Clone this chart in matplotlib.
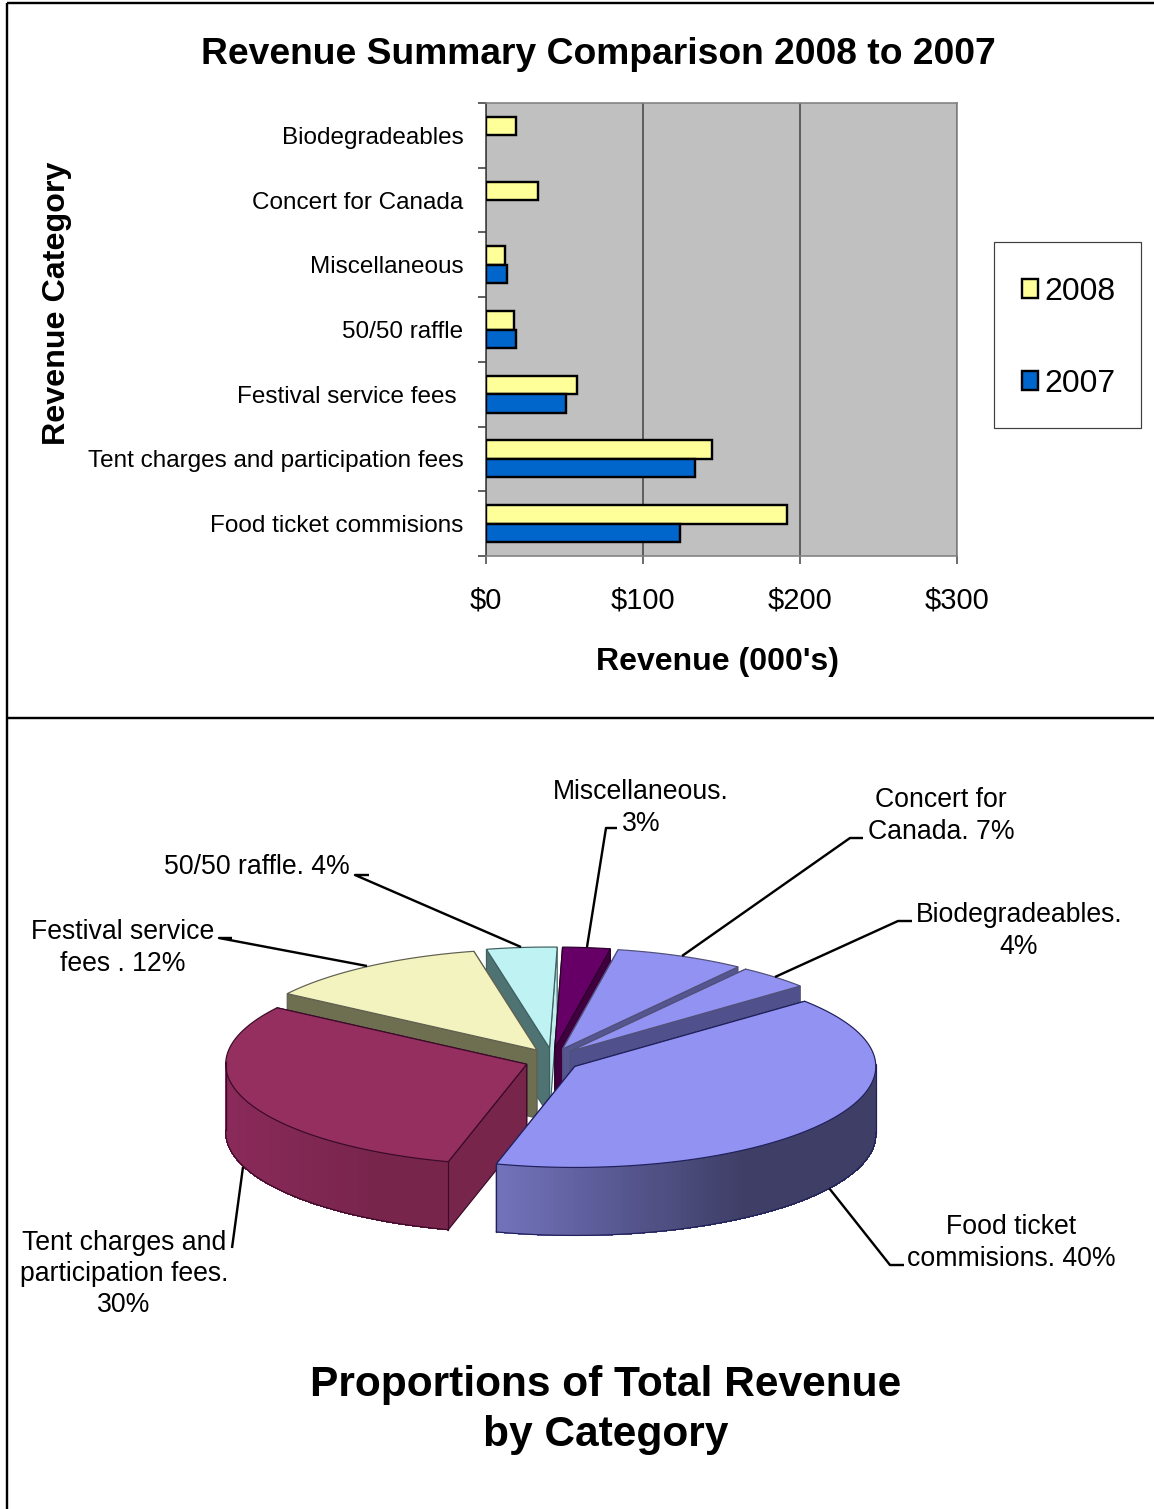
import numpy as np
import matplotlib
matplotlib.use('Agg')
import matplotlib.pyplot as plt
from matplotlib.colors import to_rgb
from matplotlib.patches import Patch, Polygon, Rectangle

plt.rcParams['font.family'] = ['Liberation Sans', 'DejaVu Sans']

# Data, top to bottom as in the bar chart ($000's)
categories = ['Biodegradeables', 'Concert for Canada', 'Miscellaneous', '50/50 raffle',
              'Festival service fees ', 'Tent charges and participation fees',
              'Food ticket commisions']
rev_2008 = [18.7, 33.0, 12.1, 17.9, 58.0, 143.7, 191.8]
rev_2007 = [np.nan, np.nan, 13.0, 18.7, 50.8, 133.0, 123.5]
x_ticks = [0, 100, 200, 300]
x_tick_labels = ['$0', '$100', '$200', '$300']

pie_labels = ['Biodegradeables.\n4%', 'Concert for\nCanada. 7%', 'Miscellaneous.\n3%',
              '50/50 raffle. 4%', 'Festival service\nfees . 12%',
              'Tent charges and\nparticipation fees.\n30%', 'Food ticket\ncommisions. 40%']

# Figure is laid out in reference pixels
W, H = 1154, 1509
DPI = 100
PX = 72 / DPI  # points per pixel

fig = plt.figure(figsize=(W / DPI, H / DPI), dpi=DPI, facecolor='white')


def axes_px(left, top, right, bottom):
    return [left / W, 1 - bottom / H, (right - left) / W, (bottom - top) / H]


# ---- bar chart ----
ax = fig.add_axes(axes_px(486.3, 103, 957, 556), facecolor='#c0c0c0')
y = np.arange(len(categories))
bar_h = 0.286
ax.barh(y - bar_h / 2, rev_2008, bar_h, color='#ffff99', edgecolor='black', linewidth=2.4 * PX, zorder=3)
ax.barh(y + bar_h / 2, rev_2007, bar_h, color='#0066cc', edgecolor='black', linewidth=2.4 * PX, zorder=3)
ax.set_xlim(0, 300)
ax.set_ylim(len(categories) - 0.5, -0.5)
ax.set_xticks(x_ticks)
ax.set_xticklabels(x_tick_labels, fontsize=21)
ax.set_yticks(y)
ax.set_yticklabels(categories, fontsize=17.5)
ax.set_yticks(np.arange(len(categories) + 1) - 0.5, minor=True)
ax.tick_params(axis='y', which='major', length=0, pad=23 * PX)
ax.tick_params(axis='y', which='minor', length=8 * PX, width=1.5 * PX, color='#303030')
ax.tick_params(axis='x', length=8 * PX, width=1.5 * PX, color='#404040', pad=22 * PX)
ax.grid(True, axis='x', color='#555555', linewidth=1.8 * PX, zorder=1)
for name, spine in ax.spines.items():
    spine.set_linewidth(1.6 * PX)
    spine.set_color('#808080')
ax.spines['left'].set_color('#404040')

handles = [Patch(facecolor='#ffff99', edgecolor='black', linewidth=2.4 * PX, label='2008'),
           Patch(facecolor='#0066cc', edgecolor='black', linewidth=2.4 * PX, label='2007')]
fig.legend(handles=handles, loc='upper left', bbox_to_anchor=(993 / W, 1 - 248 / H), fontsize=23,
           frameon=False, borderpad=0.9, labelspacing=1.95, handlelength=0.52, handleheight=0.52,
           handletextpad=0.2, borderaxespad=0)

# ---- overlay in pixel coordinates: frames, titles, pie ----
pie = fig.add_axes([0, 0, 1, 1], facecolor='none')
pie.set_xlim(0, W)
pie.set_ylim(H, 0)
pie.axis('off')

for xs, ys in [([7, 7], [3, H]), ([7, W], [3, 3]), ([7, W], [718, 718])]:
    pie.plot(xs, ys, color='black', linewidth=2.4 * PX, solid_capstyle='butt')
pie.add_patch(Rectangle((994, 242), 147, 186, facecolor='white', edgecolor='#404040', linewidth=1.2 * PX))

pie.text(598, 55, 'Revenue Summary Comparison 2008 to 2007', fontsize=26.85, fontweight='bold',
         ha='center', va='center')
pie.text(717, 662, "Revenue (000's)", fontsize=23, fontweight='bold', ha='center', va='center')
pie.text(57, 303, 'Revenue Category', fontsize=23.2, fontweight='bold', rotation=90,
         ha='center', va='center')
pie.text(606, 1385, 'Proportions of Total Revenue', fontsize=30.6, fontweight='bold',
         ha='center', va='center')
pie.text(606, 1435, 'by Category', fontsize=30.6, fontweight='bold', ha='center', va='center')

# Pie geometry: the slices are the 2008 revenues, clockwise from the biggest one
RX, RY, DEPTH = 301, 101, 68
CX, CY = 552, 1060
EXPLODE_X, EXPLODE_Y = 27, 12
START_ANGLE = 40.2

# order: food, tent, festival, raffle, misc, concert, biodegradeables
pie_values = np.array(rev_2008[::-1])
top_colors = ['#9292f2', '#952f5f', '#f3f3c0', '#bff2f2', '#660066', '#9292f2', '#9292f2']
wall_left = ['#7272bc', '#8a2a5a', '#6e6e50', '#c0eeee', '#400040', '#55558f', '#50508c']
wall_right = ['#3e3e66', '#78254c', '#6e6e50', '#4f7272', '#400040', '#8484cc', '#8484cc']
edge_colors = ['#20205a', '#3a0a28', '#606050', '#3f6060', '#2a002a', '#50507a', '#50507a']

sweep = pie_values / pie_values.sum() * 360
ends = START_ANGLE - np.cumsum(sweep)
starts = ends + sweep
mids = (starts + ends) / 2


def mix(c1, c2, t):
    c1, c2 = np.array(to_rgb(c1)), np.array(to_rgb(c2))
    return tuple(c1 + (c2 - c1) * t)


def draw_slice(i):
    m = np.radians(mids[i])
    ax0 = CX + EXPLODE_X * np.cos(m)
    ay0 = CY - EXPLODE_Y * np.sin(m)
    th = np.radians(np.linspace(starts[i], ends[i], 160))
    xs = ax0 + RX * np.cos(th)
    ys = ay0 - RY * np.sin(th)
    edge = edge_colors[i]
    lw = 1.2 * PX

    # radial walls, the one nearer the viewer last
    walls = [(xs[-1], ys[-1], wall_left[i]), (xs[0], ys[0], wall_right[i])]
    for px_, py_, col in sorted(walls, key=lambda w: w[1]):
        pts = [(ax0, ay0), (px_, py_), (px_, py_ + DEPTH), (ax0, ay0 + DEPTH)]
        pie.add_patch(Polygon(pts, closed=True, facecolor=col, edgecolor=edge, linewidth=lw))

    # outer wall, shaded left to right, only the part facing the viewer
    front = np.where(np.sin(th) < 0.02)[0]
    if len(front) > 1:
        x_min, x_max = xs[front].min(), xs[front].max()
        for k in range(len(front) - 1):
            a, b = front[k], front[k + 1]
            t = min(1, ((xs[a] + xs[b]) / 2 - x_min) / (0.65 * (x_max - x_min)))
            col = mix(wall_left[i], wall_right[i], t)
            pts = [(xs[a], ys[a]), (xs[b], ys[b]), (xs[b], ys[b] + DEPTH), (xs[a], ys[a] + DEPTH)]
            pie.add_patch(Polygon(pts, closed=True, facecolor=col, edgecolor=col, linewidth=0.5,
                                  antialiased=False))
        pie.plot(xs[front], ys[front] + DEPTH, color=edge, linewidth=lw)
        for j in (front[0], front[-1]):
            pie.plot([xs[j], xs[j]], [ys[j], ys[j] + DEPTH], color=edge, linewidth=lw)

    # top face
    pie.add_patch(Polygon(np.column_stack([np.r_[ax0, xs], np.r_[ay0, ys]]), closed=True,
                          facecolor=top_colors[i], edgecolor=edge, linewidth=lw))


# leader lines go under the pie
leaders = [[(912, 921), (898, 921), (775, 977)],
           [(863, 838), (850, 838), (682, 956)],
           [(617, 828), (606, 828), (587, 947)],
           [(369, 875), (355, 875), (521, 947)],
           [(232, 938), (219, 938), (367, 966)],
           [(232, 1248), (243, 1167)],
           [(904, 1265), (890, 1265), (829, 1188)]]
for pts in leaders:
    xs_, ys_ = zip(*pts)
    pie.plot(xs_, ys_, color='black', linewidth=2.4 * PX, solid_capstyle='butt')

# back slices first
for i in np.argsort(-np.sin(np.radians(mids))):
    draw_slice(i)

label_pos = [(1019, 931), (941, 816), (641, 808), (257, 867), (123, 948), (124, 1274), (1011, 1243)]
for text, (lx, ly) in zip(pie_labels, label_pos):
    pie.text(lx, ly, text, fontsize=19.2, ha='center', va='center', linespacing=1.27)

fig.savefig('out.png', dpi=DPI)
